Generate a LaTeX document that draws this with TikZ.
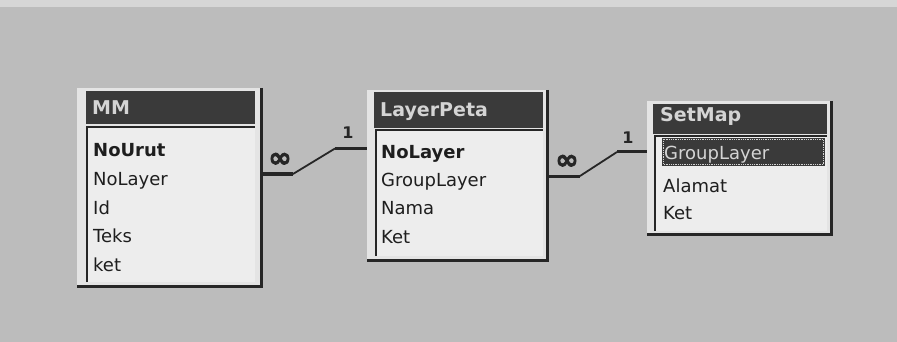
\documentclass[tikz,border=0pt]{standalone}
\usepackage{fontspec}
\setmainfont{DejaVu Sans}
\newfontfamily\symbold[FakeBold=2.5]{DejaVu Sans Bold}
\definecolor{bg}{HTML}{BCBCBC}
\definecolor{bgtop}{HTML}{D6D6D6}
\definecolor{framelight}{HTML}{E4E4E4}
\definecolor{bodywhite}{HTML}{EDEDED}
\definecolor{titledark}{HTML}{3A3A3A}
\definecolor{titletext}{HTML}{D4D4D4}
\definecolor{textdark}{HTML}{1E1E1E}
\definecolor{edgedark}{HTML}{262626}
\begin{document}
\begin{tikzpicture}[x=1pt,y=-1pt,
  frameout/.style={fill=framelight,anchor=north west,inner sep=0pt,outer sep=0pt},
  titlebar/.style={fill=titledark,anchor=north west,inner sep=0pt,outer sep=0pt},
  bodybox/.style={fill=bodywhite,anchor=north west,inner sep=0pt,outer sep=0pt},
  shadowedge/.style={draw=edgedark,line width=3pt},
  sunkedge/.style={draw=edgedark,line width=2pt},
  field/.style={anchor=base west,inner sep=0pt,text=textdark,font=\fontsize{18}{20}\selectfont},
  keyfield/.style={field,font=\fontsize{18}{20}\selectfont\bfseries},
  ttl/.style={anchor=base west,inner sep=0pt,text=titletext,font=\fontsize{19}{20}\selectfont\bfseries},
  relthick/.style={draw=edgedark,line width=3pt},
  relthin/.style={draw=edgedark,line width=1.8pt},
  manylbl/.style={inner sep=0pt,text=edgedark,font=\fontsize{28}{28}\symbold},
  onelbl/.style={inner sep=0pt,text=edgedark,font=\fontsize{16}{16}\selectfont\bfseries}]
\useasboundingbox (0,0) rectangle (897,342);
\fill[bg] (0,0) rectangle (897,342);
\fill[bgtop] (0,0) rectangle (897,7);

% ---------- MM ----------
\node[frameout,minimum width=186pt,minimum height=200pt] (mmout) at (77,88) {};
\draw[shadowedge] ([xshift=-1.5pt]mmout.north east) -- ([xshift=-1.5pt,yshift=1.5pt]mmout.south east) -- ([yshift=1.5pt]mmout.south west);
\node[titlebar,minimum width=169pt,minimum height=33pt] (mmtitle) at (86,91) {};
\node[bodybox,minimum width=168pt,minimum height=155pt] (mmbody) at (87,127) {};
\draw[sunkedge] (mmbody.south west) -- (mmbody.north west) -- (mmbody.north east);
\node[ttl] (mmname) at (92,114.5) {MM};
\node[keyfield] (mmNoUrut) at (93,157) {NoUrut};
\node[field] (mmNoLayer) at (93,185.5) {NoLayer};
\node[field] (mmId) at (93,214) {Id};
\node[field] (mmTeks) at (93,242.5) {Teks};
\node[field] (mmket) at (93,271) {ket};

% ---------- LayerPeta ----------
\node[frameout,minimum width=182pt,minimum height=172pt] (lpout) at (367,90) {};
\draw[shadowedge] ([xshift=-1.5pt]lpout.north east) -- ([xshift=-1.5pt,yshift=1.5pt]lpout.south east) -- ([yshift=1.5pt]lpout.south west);
\node[titlebar,minimum width=169pt,minimum height=36pt] (lptitle) at (374,92) {};
\node[bodybox,minimum width=167pt,minimum height=126pt] (lpbody) at (376,130) {};
\draw[sunkedge] (lpbody.south west) -- (lpbody.north west) -- (lpbody.north east);
\node[ttl] (lpname) at (380,116.5) {LayerPeta};
\node[keyfield] (lpNoLayer) at (381,158.5) {NoLayer};
\node[field] (lpGroupLayer) at (381,186.5) {GroupLayer};
\node[field] (lpNama) at (381,214.5) {Nama};
\node[field] (lpKet) at (381,243.5) {Ket};

% ---------- SetMap ----------
\node[frameout,minimum width=186pt,minimum height=135pt] (smout) at (647,101) {};
\draw[shadowedge] ([xshift=-1.5pt]smout.north east) -- ([xshift=-1.5pt,yshift=1.5pt]smout.south east) -- ([yshift=1.5pt]smout.south west);
\node[titlebar,minimum width=174pt,minimum height=30pt] (smtitle) at (653,104) {};
\node[bodybox,minimum width=172pt,minimum height=95pt] (smbody) at (655,136) {};
\draw[sunkedge] (smbody.south west) -- (smbody.north west) -- (smbody.north east);
\node[titlebar,minimum width=163pt,minimum height=28pt] (smsel) at (662,138) {};
\draw[densely dotted,draw=titletext,line width=0.8pt] ([shift={(1.5pt,-1.5pt)}]smsel.north west) rectangle ([shift={(-1.5pt,1.5pt)}]smsel.south east);
\node[ttl] (smname) at (660,121.5) {SetMap};
\node[field,text=titletext] (smGroupLayer) at (664,160) {GroupLayer};
\node[field] (smAlamat) at (663,192.5) {Alamat};
\node[field] (smKet) at (663,219.5) {Ket};

% ---------- relation MM -- LayerPeta ----------
\coordinate (r1a) at (293,174);
\coordinate (r1b) at (335,148.5);
\draw[relthick] (mmout.north east |- r1a) -- (r1a);
\draw[relthin] (r1a) -- (r1b);
\draw[relthick] (r1b) -- (lpout.north west |- r1b);
\node[manylbl] (r1many) at (280,160) {∞};
\node[onelbl] (r1one) at (348,133) {1};

% ---------- relation LayerPeta -- SetMap ----------
\coordinate (r2a) at (580,176);
\coordinate (r2b) at (617,152);
\draw[relthick] (lpout.north east |- r2a) -- (r2a);
\draw[relthin] (r2a) -- (r2b);
\draw[relthick] (r2b) -- (smout.north west |- r2b);
\node[manylbl] (r2many) at (567,162) {∞};
\node[onelbl] (r2one) at (628,138) {1};
\end{tikzpicture}
\end{document}
